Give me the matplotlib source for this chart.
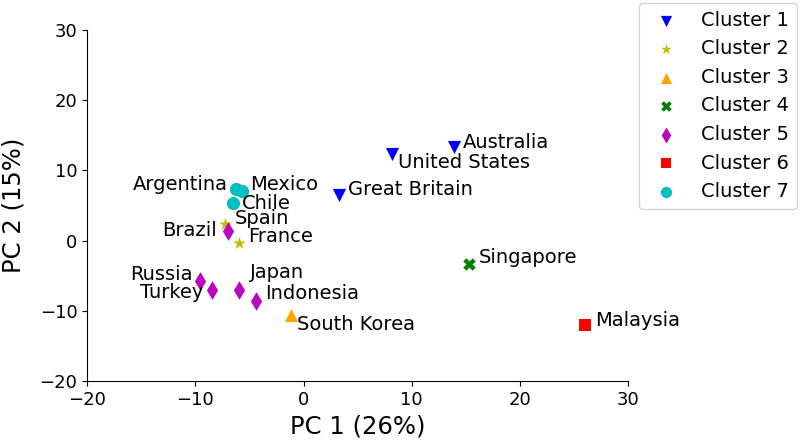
import numpy as np
import matplotlib
matplotlib.use('Agg')
import matplotlib.pyplot as plt

# cluster membership and PCA coordinates
clusters = ['Cluster 1', 'Cluster 2', 'Cluster 3', 'Cluster 4', 'Cluster 5', 'Cluster 6', 'Cluster 7']
c1_names = ['United States', 'Australia', 'Great Britain']
c1_x = [8.2, 13.9, 3.3]
c1_y = [12.3, 13.3, 6.5]
c2_names = ['Spain', 'France']
c2_x = [-7.3, -6.0]
c2_y = [2.4, -0.3]
c3_names = ['South Korea']
c3_x = [-1.15]
c3_y = [-10.6]
c4_names = ['Singapore']
c4_x = [15.3]
c4_y = [-3.3]
c5_names = ['Brazil', 'Russia', 'Turkey', 'Japan', 'Indonesia']
c5_x = [-6.95, -9.55, -8.5, -6.0, -4.4]
c5_y = [1.4, -5.7, -7.1, -7.0, -8.6]
c6_names = ['Malaysia']
c6_x = [26.0]
c6_y = [-12.0]
c7_names = ['Argentina', 'Mexico', 'Chile']
c7_x = [-6.2, -5.7, -6.5]
c7_y = [7.3, 7.1, 5.3]

groups = [(c1_names, c1_x, c1_y), (c2_names, c2_x, c2_y), (c3_names, c3_x, c3_y),
          (c4_names, c4_x, c4_y), (c5_names, c5_x, c5_y), (c6_names, c6_x, c6_y),
          (c7_names, c7_x, c7_y)]
markers = ['v', '*', '^', 'X', 'd', 's', 'o']
colors = ['b', 'y', 'orange', 'g', 'm', 'r', 'c']
sizes = [90, 90, 90, 80, 90, 80, 90]

# label offsets in pixels (dx, dy up) and alignment
offs = {'United States': (6, -8, 'left'), 'Australia': (9, 5, 'left'),
        'Great Britain': (9, 6, 'left'), 'Spain': (10, 5, 'left'),
        'France': (10, 6, 'left'), 'South Korea': (6, -9, 'left'),
        'Singapore': (10, 6, 'left'), 'Brazil': (-11, 0, 'right'),
        'Russia': (-8, 6, 'right'), 'Turkey': (-8, -2, 'right'),
        'Japan': (11, 17, 'left'), 'Indonesia': (9, 7, 'left'),
        'Malaysia': (10, 4, 'left'), 'Argentina': (-9, 5, 'right'),
        'Mexico': (8, 6, 'left'), 'Chile': (9, 0, 'left')}

fig = plt.figure(figsize=(8, 4.43), dpi=100)
ax = fig.add_axes([0.109, 0.140, 0.676, 0.792])

for k, (nm, xs, ys) in enumerate(groups):
    ax.scatter(xs, ys, marker=markers[k], c=colors[k], s=sizes[k], label=clusters[k],
               linewidths=0)
    for n, x, y in zip(nm, xs, ys):
        dx, dy, ha = offs[n]
        ax.annotate(n, (x, y), xytext=(dx * 0.72, dy * 0.72), textcoords='offset points',
                    ha=ha, va='center', fontsize=14)

ax.set_xlim(-20, 30)
ax.set_ylim(-20, 30)
ax.set_xticks(np.arange(-20, 31, 10))
ax.set_yticks(np.arange(-20, 31, 10))
ax.tick_params(labelsize=13)
ax.spines['top'].set_visible(False)
ax.spines['right'].set_visible(False)
ax.set_xlabel('PC 1 (26%)', fontsize=17.5, labelpad=4)
ax.set_ylabel('PC 2 (15%)', fontsize=17.5, labelpad=10)

fig.legend(loc='upper right', bbox_to_anchor=(0.996, 0.993), borderaxespad=0,
           fontsize=14, handletextpad=0.8, borderpad=0.4, labelspacing=0.49,
           markerscale=0.85)

plt.savefig('out.png', dpi=100)
